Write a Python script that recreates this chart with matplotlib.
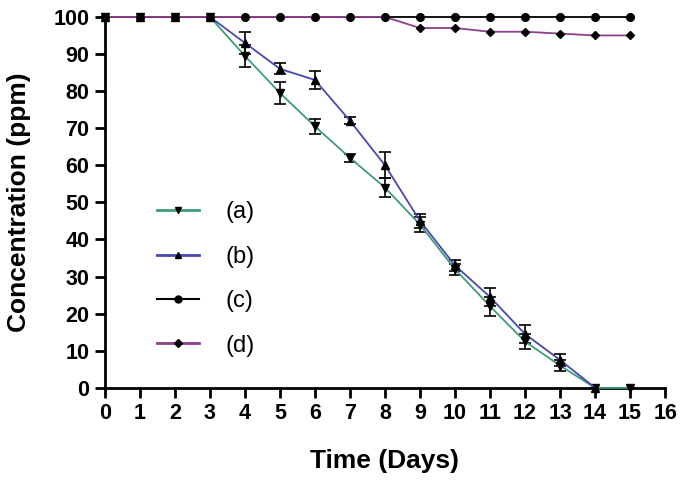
import matplotlib
matplotlib.use("Agg")
import matplotlib.pyplot as plt
from matplotlib.lines import Line2D

days = list(range(16))

conc_a = [100, 100, 100, 100, 89.5, 79.5, 70.5, 62, 54, 44, 32, 22, 12.5, 6, 0, 0]
err_a = [0, 0, 0, 0, 3, 3, 2, 1, 2.5, 2, 1.5, 2.5, 2, 1.5, 0, 0]

days_b = list(range(15))
conc_b = [100, 100, 100, 100, 93, 86, 83, 72, 60, 45, 33, 24.5, 14.5, 7.5, 0]
err_b = [0, 0, 0, 0, 3, 1.5, 2.5, 1, 3.5, 2, 1.5, 2.5, 2.5, 1.5, 0]

conc_c = [100] * 16

conc_d = [100, 100, 100, 100, 100, 100, 100, 100, 100, 97, 97, 96, 96, 95.5, 95, 95]

labels = ["(a)", "(b)", "(c)", "(d)"]

plt.rcParams['font.family'] = ['Liberation Sans', 'DejaVu Sans']

col_a, col_b, col_c, col_d = '#3f9c78', '#4848b4', 'black', '#8e3f8e'

fig = plt.figure(figsize=(6.85, 4.83), dpi=100)
ax = fig.add_axes([0.153, 0.197, 0.818, 0.768])

ax.errorbar(days, conc_a, yerr=err_a, color=col_a, marker='v', mfc='black', mec='black',
            ms=6, lw=1.3, ecolor='black', elinewidth=1.2, capsize=4, capthick=1.2,
            clip_on=False, zorder=3)
ax.errorbar(days_b, conc_b, yerr=err_b, color=col_b, marker='^', mfc='black', mec='black',
            ms=6, lw=1.3, ecolor='black', elinewidth=1.2, capsize=4, capthick=1.2,
            clip_on=False, zorder=3)
ax.plot(days, conc_c, color=col_c, marker='o', ms=5.5, lw=1.3, clip_on=False, zorder=4)
ax.plot(days, conc_d, color=col_d, marker='D', mfc='black', mec='black', ms=4.5, lw=1.3,
        clip_on=False, zorder=4)

ax.set_xlim(0, 16)
ax.set_ylim(0, 100)
ax.set_xticks(range(17))
ax.set_yticks(range(0, 101, 10))

for s in ['top', 'right']:
    ax.spines[s].set_visible(False)
for s in ['left', 'bottom']:
    ax.spines[s].set_linewidth(2)

ax.tick_params(axis='both', direction='out', length=7, width=2, labelsize=15.5, pad=4)
for lab in ax.get_xticklabels() + ax.get_yticklabels():
    lab.set_fontweight('bold')

ax.set_xlabel('Time (Days)', fontsize=19, fontweight='bold', labelpad=18)
ax.set_ylabel('Concentration (ppm)', fontsize=19, fontweight='bold', labelpad=16)

handles = [
    Line2D([], [], color=col_a, marker='v', mfc='black', mec='black', ms=5, lw=2),
    Line2D([], [], color=col_b, marker='^', mfc='black', mec='black', ms=5, lw=2),
    Line2D([], [], color=col_c, marker='o', ms=5, lw=1.5),
    Line2D([], [], color=col_d, marker='D', mfc='black', mec='black', ms=4, lw=2),
]
ax.legend(handles, labels, loc='upper left', bbox_to_anchor=(0.055, 0.56), frameon=False,
          handlelength=1.8, labelspacing=0.95, handletextpad=1.1,
          prop={'family': 'Liberation Sans', 'size': 17})

fig.savefig('out.png', dpi=100)
